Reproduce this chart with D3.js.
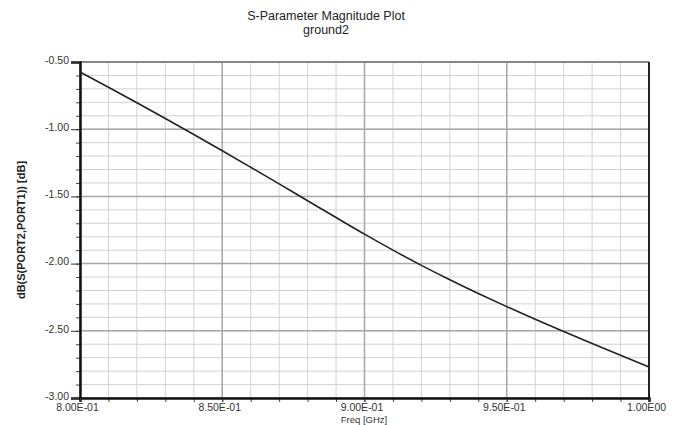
<!DOCTYPE html>
<html>
<head>
<meta charset="utf-8">
<script src="https://cdn.jsdelivr.net/npm/d3@7"></script>
<style>
  body { margin: 0; background: #fff; }
  svg { display: block; font-family: Arial, "Liberation Sans", sans-serif; }
</style>
</head>
<body>
<div id="chart"></div>
<script>
const layout = {
    width: 695,
    height: 425,
    marginLeft: 80,
    marginTop: 62,
    plotRight: 649,
    plotBottom: 398
};

const titleLines = ["S-Parameter Magnitude Plot", "ground2"];
const yLabel = "dB(S(PORT2,PORT1)) [dB]";
const xLabel = "Freq [GHz]";

const freq = [0.80, 0.81, 0.82, 0.83, 0.84, 0.85, 0.86, 0.87, 0.88, 0.89, 0.90,
              0.91, 0.92, 0.93, 0.94, 0.95, 0.96, 0.97, 0.98, 0.99, 1.00];
const magDb = [-0.575, -0.688, -0.803, -0.920, -1.039, -1.160, -1.283, -1.407, -1.532, -1.657, -1.781,
               -1.900, -2.013, -2.120, -2.222, -2.320, -2.414, -2.505, -2.594, -2.682, -2.769];

const xTicks = [0.80, 0.85, 0.90, 0.95, 1.00];
const yTicks = [-0.50, -1.00, -1.50, -2.00, -2.50, -3.00];
const xMinor = [0.80, 0.81, 0.82, 0.83, 0.84, 0.85, 0.86, 0.87, 0.88, 0.89, 0.90,
                0.91, 0.92, 0.93, 0.94, 0.95, 0.96, 0.97, 0.98, 0.99, 1.00];
const yMinor = [-0.5, -0.6, -0.7, -0.8, -0.9, -1.0, -1.1, -1.2, -1.3, -1.4, -1.5, -1.6, -1.7,
                -1.8, -1.9, -2.0, -2.1, -2.2, -2.3, -2.4, -2.5, -2.6, -2.7, -2.8, -2.9, -3.0];

function sciFormat(d) {
    let e = Math.floor(Math.log10(d) + 1e-9);
    let m = d / Math.pow(10, e);
    let es = (e < 0 ? "-" : "") + String(Math.abs(e)).padStart(2, "0");
    return m.toFixed(2) + "E" + es;
}

const svg = d3.select("#chart").append("svg")
    .attr("width", layout.width)
    .attr("height", layout.height);

const x = d3.scaleLinear().domain([0.8, 1.0]).range([layout.marginLeft, layout.plotRight]);
const y = d3.scaleLinear().domain([-3.0, -0.5]).range([layout.plotBottom, layout.marginTop]);

// minor grid
svg.append("g").selectAll("line").data(xMinor).join("line")
    .attr("x1", d => x(d)).attr("x2", d => x(d))
    .attr("y1", layout.marginTop).attr("y2", layout.plotBottom)
    .attr("stroke", "#d2d2d2").attr("stroke-width", 1);
svg.append("g").selectAll("line").data(yMinor).join("line")
    .attr("x1", layout.marginLeft).attr("x2", layout.plotRight)
    .attr("y1", d => y(d)).attr("y2", d => y(d))
    .attr("stroke", "#d2d2d2").attr("stroke-width", 1);

// major grid
svg.append("g").selectAll("line").data(xTicks).join("line")
    .attr("x1", d => x(d)).attr("x2", d => x(d))
    .attr("y1", layout.marginTop).attr("y2", layout.plotBottom)
    .attr("stroke", "#a8a8a8").attr("stroke-width", 1.5);
svg.append("g").selectAll("line").data(yTicks).join("line")
    .attr("x1", layout.marginLeft).attr("x2", layout.plotRight)
    .attr("y1", d => y(d)).attr("y2", d => y(d))
    .attr("stroke", "#a8a8a8").attr("stroke-width", 1.5);

// frame top / right
svg.append("line")
    .attr("x1", layout.marginLeft).attr("x2", layout.plotRight)
    .attr("y1", layout.marginTop).attr("y2", layout.marginTop)
    .attr("stroke", "#777").attr("stroke-width", 1.5);
svg.append("line")
    .attr("x1", layout.plotRight).attr("x2", layout.plotRight)
    .attr("y1", layout.marginTop).attr("y2", layout.plotBottom)
    .attr("stroke", "#222").attr("stroke-width", 2);

// minor ticks
let yMinorAxis = svg.append("g")
    .attr("transform", `translate(${layout.marginLeft},0)`)
    .call(d3.axisLeft(y).tickValues(yMinor).tickSize(4).tickFormat(""));
yMinorAxis.select(".domain").remove();
yMinorAxis.selectAll("line").attr("stroke", "#444");

let xMinorAxis = svg.append("g")
    .attr("transform", `translate(0,${layout.plotBottom})`)
    .call(d3.axisBottom(x).tickValues(xMinor).tickSize(4).tickFormat(""));
xMinorAxis.select(".domain").remove();
xMinorAxis.selectAll("line").attr("stroke", "#444");

// y axis
let yAxis = svg.append("g")
    .attr("transform", `translate(${layout.marginLeft},0)`)
    .call(d3.axisLeft(y).tickValues(yTicks).tickSize(9).tickPadding(2).tickFormat(d => d.toFixed(2)));
yAxis.select(".domain").attr("stroke", "#111").attr("stroke-width", 2.5);
yAxis.selectAll("line").attr("stroke", "#333");
yAxis.selectAll("text").attr("fill", "#333").attr("font-size", 10.5).attr("y", -2);

// x axis
let xAxis = svg.append("g")
    .attr("transform", `translate(0,${layout.plotBottom})`)
    .call(d3.axisBottom(x).tickValues(xTicks).tickSize(4).tickPadding(2).tickFormat(sciFormat));
xAxis.select(".domain").attr("stroke", "#111").attr("stroke-width", 2.5);
xAxis.selectAll("line").attr("stroke", "#333");
xAxis.selectAll("text").attr("fill", "#333").attr("font-size", 10.5)
    .attr("dx", -3);

// curve
svg.append("path")
    .datum(freq.map((f, i) => [f, magDb[i]]))
    .attr("fill", "none")
    .attr("stroke", "#222")
    .attr("stroke-width", 1.6)
    .attr("d", d3.line()
        .x(d => x(d[0]))
        .y(d => y(d[1]))
        .curve(d3.curveMonotoneX));

// titles
svg.append("g").selectAll("text").data(titleLines).join("text")
    .attr("x", 326)
    .attr("y", (d, i) => 20 + i * 14)
    .attr("text-anchor", "middle")
    .attr("font-size", 12.5)
    .attr("fill", "#222")
    .text(d => d);

svg.append("text")
    .attr("transform", `translate(25,${(layout.marginTop + layout.plotBottom) / 2}) rotate(-90)`)
    .attr("text-anchor", "middle")
    .attr("font-size", 11)
    .attr("font-weight", "bold")
    .attr("fill", "#222")
    .text(yLabel);

svg.append("text")
    .attr("x", 364)
    .attr("y", 423)
    .attr("text-anchor", "middle")
    .attr("font-size", 9.5)
    .attr("fill", "#333")
    .text(xLabel);
</script>
</body>
</html>
